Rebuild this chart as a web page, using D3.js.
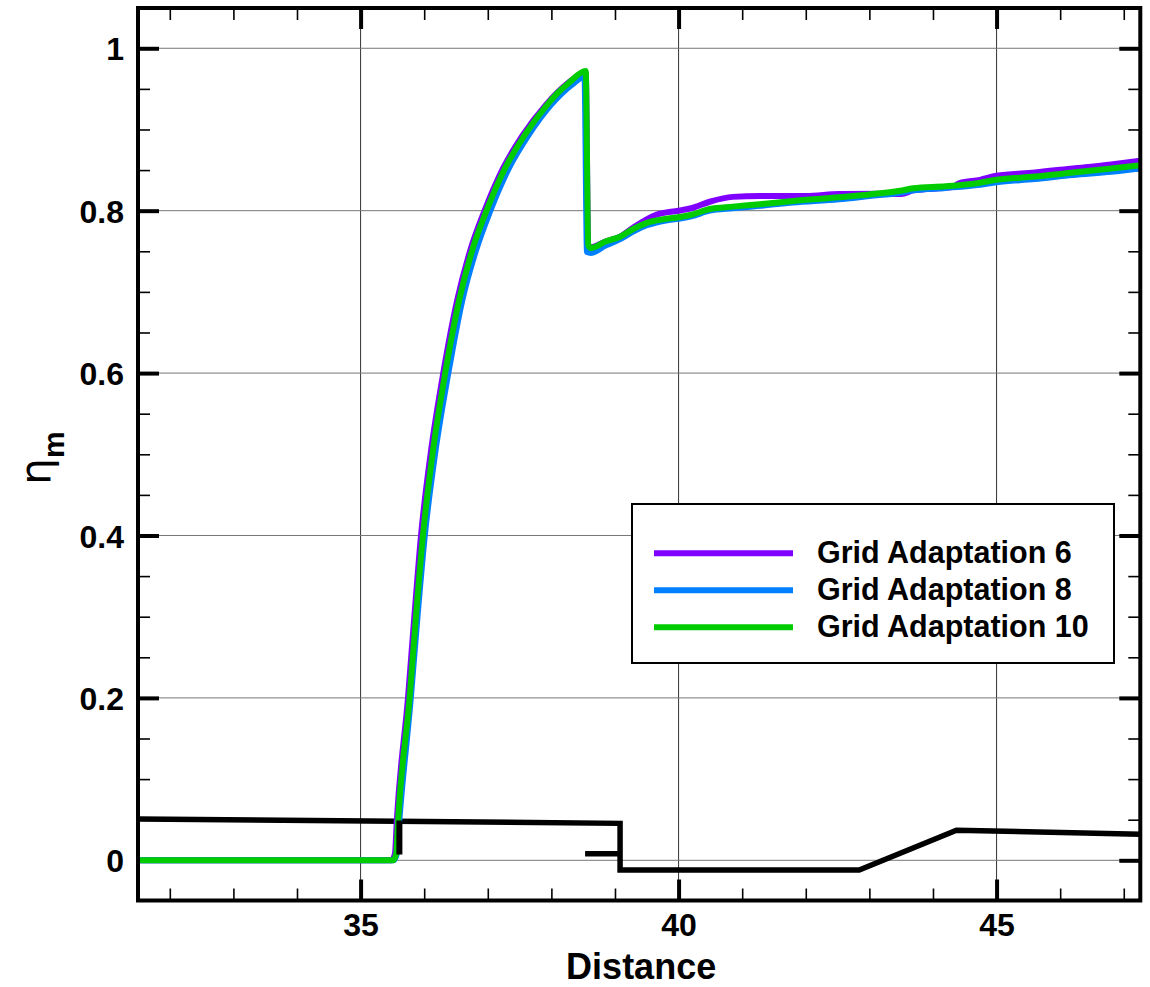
<!DOCTYPE html>
<html>
<head>
<meta charset="utf-8">
<script src="https://cdn.jsdelivr.net/npm/d3@7"></script>
<style>
  html, body { margin: 0; padding: 0; background: #fff; }
  svg text { font-family: "Liberation Sans", Arial, Helvetica, sans-serif; }
</style>
</head>
<body>
<svg id="chart" width="1150" height="987"></svg>
<script>
// ---------------- data ----------------
const seriesNames = ["Grid Adaptation 6", "Grid Adaptation 8", "Grid Adaptation 10"];
const seriesColors = ["#8000ff", "#0080ff", "#00cc00"];

const x6 = [31.5, 35.49, 35.54, 35.57, 35.745, 35.845, 35.95, 36.10, 36.30, 36.52, 36.72, 36.95, 37.24, 37.55, 37.91, 38.26, 38.54, 38.58, 38.62, 38.85, 39.08, 39.3, 39.65, 40.0, 40.2, 40.49, 40.85, 41.28, 42.0, 42.52, 43.17, 43.5, 43.69, 44.3, 44.42, 44.74, 45.0, 45.6, 46.2, 46.8, 47.26];
const y6 = [0, 0, 0.008, 0.05, 0.20, 0.30, 0.40, 0.50, 0.60, 0.69, 0.75, 0.80, 0.852, 0.893, 0.930, 0.957, 0.970, 0.756, 0.755, 0.762, 0.768, 0.780, 0.795, 0.800, 0.803, 0.811, 0.817, 0.818, 0.818, 0.8205, 0.821, 0.8205, 0.825, 0.829, 0.834, 0.838, 0.843, 0.847, 0.852, 0.857, 0.8615];

const x8 = [31.5, 35.52, 35.57, 35.61, 35.79, 35.895, 36.01, 36.17, 36.38, 36.60, 36.81, 37.04, 37.33, 37.64, 37.99, 38.32, 38.52, 38.56, 38.62, 38.85, 39.08, 39.3, 39.5, 39.8, 40.0, 40.2, 40.49, 40.85, 41.28, 41.8, 42.52, 43.0, 43.48, 43.69, 44.2, 44.74, 45.0, 45.6, 46.2, 46.8, 47.26];
const y8 = [0, 0, 0.008, 0.05, 0.20, 0.30, 0.40, 0.50, 0.60, 0.69, 0.75, 0.80, 0.852, 0.893, 0.930, 0.955, 0.965, 0.749, 0.748, 0.757, 0.765, 0.775, 0.782, 0.788, 0.790, 0.793, 0.800, 0.803, 0.806, 0.810, 0.814, 0.818, 0.822, 0.825, 0.828, 0.832, 0.835, 0.839, 0.844, 0.848, 0.852];

const x10 = [31.5, 35.51, 35.56, 35.59, 35.77, 35.87, 35.98, 36.13, 36.33, 36.55, 36.75, 36.98, 37.27, 37.58, 37.93, 38.10, 38.27, 38.54, 38.58, 38.62, 38.85, 39.08, 39.3, 39.5, 39.8, 40.0, 40.2, 40.49, 40.85, 41.28, 41.8, 42.52, 43.0, 43.48, 43.69, 44.2, 44.74, 45.0, 45.6, 46.2, 46.8, 47.26];
const y10 = [0, 0, 0.008, 0.05, 0.20, 0.30, 0.40, 0.50, 0.60, 0.69, 0.75, 0.80, 0.852, 0.893, 0.930, 0.945, 0.957, 0.972, 0.758, 0.754, 0.762, 0.768, 0.778, 0.785, 0.790, 0.792, 0.795, 0.802, 0.805, 0.808, 0.812, 0.8165, 0.820, 0.8245, 0.8275, 0.830, 0.8345, 0.838, 0.842, 0.847, 0.852, 0.856];

// wall geometry (black), NaN separates pieces
const wallX = [31.5, 39.08, 39.08, 42.84, 44.37, 47.26, NaN, 38.53, 39.08];
const wallY = [0.051, 0.0455, -0.012, -0.012, 0.037, 0.032, NaN, 0.008, 0.008];
// short vertical wall stub drawn above the curves
const stubX = [35.61, 35.61];
const stubY = [0.049, 0.007];

const xMajorTicks = [35, 40, 45];
const xTickLabels = ["35", "40", "45"];
const yMajorTicks = [0, 0.2, 0.4, 0.6, 0.8, 1];
const yTickLabels = ["0", "0.2", "0.4", "0.6", "0.8", "1"];
const xTitle = "Distance";

// ---------------- layout ----------------
const svg = d3.select("#chart");
const L = 138, R = 1140.3, T = 8, B = 900.5;
const x = d3.scaleLinear().domain([31.5, 47.26]).range([L, R]);
const y = d3.scaleLinear().domain([-0.0495, 1.0496]).range([B, T]);

const xMinor = d3.range(32, 48, 1).filter(v => !xMajorTicks.includes(v) && v <= 47.26);
const yMinor = d3.range(-0.05, 1.06, 0.05).map(v => +v.toFixed(2)).filter(v => !yMajorTicks.some(m => Math.abs(m - v) < 1e-6) && v > -0.0495 && v < 1.0496);

svg.append("defs").append("clipPath").attr("id", "clip")
  .append("rect").attr("x", L).attr("y", T).attr("width", R - L).attr("height", B - T);

// grid lines
const grid = svg.append("g");
grid.selectAll(".vg").data(xMajorTicks).enter().append("line")
  .attr("x1", d => x(d)).attr("x2", d => x(d)).attr("y1", T).attr("y2", B)
  .attr("stroke", "#333").attr("stroke-width", 1);
grid.selectAll(".hg").data(yMajorTicks).enter().append("line")
  .attr("x1", L).attr("x2", R).attr("y1", d => y(d)).attr("y2", d => y(d))
  .attr("stroke", "#777").attr("stroke-width", 1);

// axes with inward ticks on all sides
function drawAxis(axisGen, transform) {
  const g = svg.append("g").attr("transform", transform).call(axisGen);
  g.select(".domain").remove();
  return g;
}
const xb = drawAxis(d3.axisBottom(x).tickValues(xMajorTicks).tickSize(-21).tickFormat((d, i) => xTickLabels[i]).tickPadding(0), `translate(0,${B})`);
xb.selectAll("line").attr("stroke", "#000").attr("stroke-width", 4);
xb.selectAll("text").attr("font-size", 32).attr("font-weight", "bold").attr("fill", "#000").attr("y", 35).attr("dy", 0);

const xbm = drawAxis(d3.axisBottom(x).tickValues(xMinor).tickSize(-12).tickFormat(""), `translate(0,${B})`);
xbm.selectAll("line").attr("stroke", "#000").attr("stroke-width", 1.6);

const xt = drawAxis(d3.axisTop(x).tickValues(xMajorTicks).tickSize(-21).tickFormat(""), `translate(0,${T})`);
xt.selectAll("line").attr("stroke", "#000").attr("stroke-width", 4);
const xtm = drawAxis(d3.axisTop(x).tickValues(xMinor).tickSize(-12).tickFormat(""), `translate(0,${T})`);
xtm.selectAll("line").attr("stroke", "#000").attr("stroke-width", 1.6);

const yl = drawAxis(d3.axisLeft(y).tickValues(yMajorTicks).tickSize(-21).tickFormat((d, i) => yTickLabels[i]).tickPadding(0), `translate(${L},0)`);
yl.selectAll("line").attr("stroke", "#000").attr("stroke-width", 4);
yl.selectAll("text").attr("font-size", 32).attr("font-weight", "bold").attr("fill", "#000").attr("x", -14).attr("dy", "0.36em");
const ylm = drawAxis(d3.axisLeft(y).tickValues(yMinor).tickSize(-12).tickFormat(""), `translate(${L},0)`);
ylm.selectAll("line").attr("stroke", "#000").attr("stroke-width", 1.6);

const yr = drawAxis(d3.axisRight(y).tickValues(yMajorTicks).tickSize(-21).tickFormat(""), `translate(${R},0)`);
yr.selectAll("line").attr("stroke", "#000").attr("stroke-width", 4);
const yrm = drawAxis(d3.axisRight(y).tickValues(yMinor).tickSize(-12).tickFormat(""), `translate(${R},0)`);
yrm.selectAll("line").attr("stroke", "#000").attr("stroke-width", 1.6);

// data lines
const plot = svg.append("g").attr("clip-path", "url(#clip)");
const wallLine = d3.line().defined(d => !isNaN(d[0]) && !isNaN(d[1])).x(d => x(d[0])).y(d => y(d[1]));
const curveLine = d3.line().x(d => x(d[0])).y(d => y(d[1])).curve(d3.curveMonotoneX);

plot.append("path").datum(wallX.map((v, i) => [v, wallY[i]]))
  .attr("d", wallLine).attr("fill", "none").attr("stroke", "#000").attr("stroke-width", 5.5)
  .attr("stroke-linejoin", "miter");

const seriesX = [x6, x8, x10];
const seriesY = [y6, y8, y10];
seriesX.forEach((xs, k) => {
  plot.append("path").datum(xs.map((v, i) => [v, seriesY[k][i]]))
    .attr("d", curveLine).attr("fill", "none").attr("stroke", seriesColors[k])
    .attr("stroke-width", 6).attr("stroke-linejoin", "round");
});

plot.append("path").datum(stubX.map((v, i) => [v, stubY[i]]))
  .attr("d", wallLine).attr("fill", "none").attr("stroke", "#000").attr("stroke-width", 6);

// frame
svg.append("rect").attr("x", L).attr("y", T).attr("width", R - L).attr("height", B - T)
  .attr("fill", "none").attr("stroke", "#000").attr("stroke-width", 4);

// axis titles
svg.append("text").attr("x", (L + R) / 2 + 2).attr("y", 979)
  .attr("text-anchor", "middle").attr("font-size", 36).attr("font-weight", "bold").text(xTitle);

const yt = svg.append("text").attr("transform", "translate(50,458) rotate(-90)")
  .attr("text-anchor", "middle");
yt.append("tspan").attr("font-size", 42).attr("font-family", "DejaVu Sans").text("η");
yt.append("tspan").attr("font-size", 30).attr("font-weight", "bold").attr("dy", 14).text("m");

// legend
const lg = svg.append("g");
lg.append("rect").attr("x", 632).attr("y", 504).attr("width", 482).attr("height", 159)
  .attr("fill", "#fff").attr("stroke", "#000").attr("stroke-width", 2);
seriesNames.forEach((name, k) => {
  const yy = 553.3 + k * 37;
  lg.append("line").attr("x1", 654).attr("x2", 793).attr("y1", yy).attr("y2", yy)
    .attr("stroke", seriesColors[k]).attr("stroke-width", 6);
  lg.append("text").attr("x", 817).attr("y", yy + 10).attr("font-size", 30.5)
    .attr("font-weight", "bold").text(name);
});
</script>
</body>
</html>
